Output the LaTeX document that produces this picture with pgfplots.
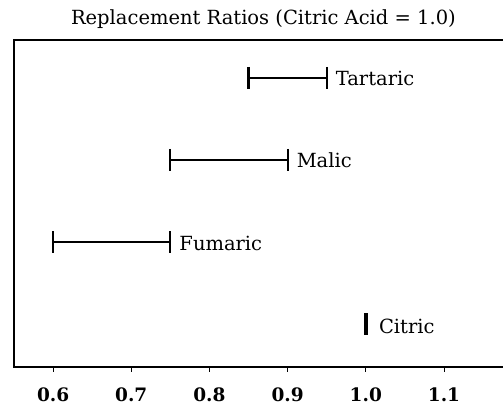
\documentclass[border=0pt]{standalone}
\usepackage{fontspec}
\setmainfont{DejaVu Serif}
\usepackage{pgfplots}
\pgfplotsset{compat=1.18}
\begin{document}
\begin{tikzpicture}
\useasboundingbox (0,0) rectangle (503pt,412pt);
\begin{axis}[
  at={(14pt,45pt)}, anchor=south west,
  width=491pt, height=327pt, scale only axis,
  xmin=0.550, xmax=1.178, ymin=0.476, ymax=4.463,
  xtick={0.6,0.7,0.8,0.9,1.0,1.1},
  xticklabels={0.6,0.7,0.8,0.9,1.0,1.1},
  xtick pos=lower,
  ytick=\empty,
  tick align=outside, major tick length=5pt,
  xtick style={line width=1pt, black},
  axis line style={line width=1.8pt},
  xticklabel style={font=\fontsize{18.5}{20}\selectfont\bfseries, yshift=-12pt},
  clip=false,
]
\addplot[black, line width=2.2pt, mark=|, mark size=11pt, mark options={line width=2.2pt}]
  coordinates {(0.85,4) (0.95,4)} node[pos=1, anchor=base west, inner sep=0pt, xshift=8pt, yshift=-8pt, font=\fontsize{19.5}{22}\selectfont] {Tartaric};
\addplot[black, line width=2.2pt, mark=|, mark size=11pt, mark options={line width=2.2pt}]
  coordinates {(0.75,3) (0.90,3)} node[pos=1, anchor=base west, inner sep=0pt, xshift=8pt, yshift=-8pt, font=\fontsize{19.5}{22}\selectfont] {Malic};
\addplot[black, line width=2.2pt, mark=|, mark size=11pt, mark options={line width=2.2pt}]
  coordinates {(0.60,2) (0.75,2)} node[pos=1, anchor=base west, inner sep=0pt, xshift=8pt, yshift=-8pt, font=\fontsize{19.5}{22}\selectfont] {Fumaric};
\addplot[black, only marks, mark=|, mark size=11pt, mark options={line width=4.5pt}]
  coordinates {(1.0,1)};
\node[anchor=base west, inner sep=0pt, font=\fontsize{19.5}{22}\selectfont] at (axis cs:1.0,1) [xshift=13pt, yshift=-9pt] {Citric};
\node[anchor=base, inner sep=0pt, font=\fontsize{19.5}{22}\selectfont] at (axis cs:0.869,4.463) [yshift=15pt] {Replacement Ratios (Citric Acid = 1.0)};
\end{axis}
\end{tikzpicture}
\end{document}
